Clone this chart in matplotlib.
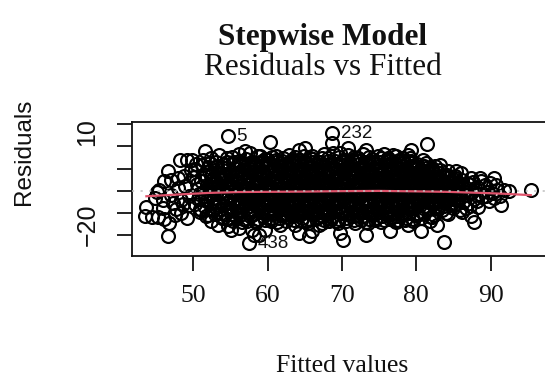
import numpy as np
import matplotlib
matplotlib.use("Agg")
import matplotlib.pyplot as plt
from matplotlib.transforms import ScaledTranslation

SERIF = "Liberation Serif"
SANS = "Liberation Sans"

# ---- fitted values and residuals, grouped by fitted-value range ----
fit_44_50 = [43.7, 43.5, 44.4, 45.2, 46.1, 46.8, 46.6, 45.9, 47.5, 48.4,
             49.1, 49.5, 45.1, 46.1, 47.0, 48.0, 48.8, 49.96, 48.2, 49.1,
             49.9, 45.4, 47.0, 47.9, 48.4, 45.9, 47.3, 48.6, 49.4, 46.6,
             49.7, 47.7, 44.8, 48.9]
res_44_50 = [-7.3, -11.4, -11.8, -11.6, -12.5, -14.4, -20.4, -7.7, -10.7, -9.9,
             -12.2, -6.2, -0.5, 4.4, 5.1, 5.9, 6.6, 6.2, 13.8, 13.8,
             13.8, 0.6, -1.7, 1.4, -3.9, -3.9, -5.6, -6.0, -2.1, 9.0,
             9.6, -7.9, -3.4, 2.3]

fit_50_56 = [50.2, 50.5, 50.8, 50.3, 50.9, 50.6, 50.1, 50.7, 50.4, 50.95, 51.1,
             51.6, 51.2, 51.5, 51.8, 51.3, 51.9, 51.4, 51.7, 51.05, 51.6, 51.35,
             52.4, 52.4, 52.1, 52.6, 52.8, 52.3, 52.9, 52.5, 52.2, 52.7, 52.35, 52.95, 52.55,
             53.3, 53.1, 53.4, 53.7, 53.2, 53.9, 53.5, 53.8, 53.05, 53.6, 53.3, 53.85, 53.45,
             54.7, 54.7, 54.1, 54.4, 54.8, 54.2, 54.6, 54.9, 54.3, 54.5, 54.75, 54.05, 54.65, 54.35,
             55.1, 55.2, 55.5, 55.8, 55.3, 55.9, 55.6, 55.1, 55.7, 55.4, 55.05, 55.85, 55.55, 55.25]
res_50_56 = [9.8, 3.2, -1.5, -5.8, -9.6, 0.9, 6.4, -3.7, 12.1, -7.9, -8.4,
             17.9, 11.5, 7.2, 2.8, -0.4, -4.1, -6.9, -11.2, 4.6, -2.3, 13.9,
             14.9, -13.6, 9.1, 5.3, 1.7, -1.9, -5.2, -8.6, 12.4, -3.4, 3.6, -10.3, 7.6,
             -15.2, 13.2, 8.7, 4.9, 1.3, -2.1, -6.4, -9.8, 10.6, -0.6, 6.2, -12.1, 16.0,
             24.6, -15.9, 11.9, 7.4, 3.3, -0.2, -3.8, -7.5, -10.4, 14.6, 1.8, 5.6, -12.8, -5.3,
             -17.4, 15.1, 10.3, 6.1, 2.4, -1.1, -4.6, -8.2, -11.7, 13.0, 4.2, -6.3, 0.6, 8.4]

fit_56_64 = [56.1, 56.1, 56.2, 56.5, 56.8, 56.3, 56.9, 56.6, 56.1, 56.7, 56.4, 56.05, 56.85, 56.55, 56.25, 56.75,
             57.0, 57.7, 57.9, 57.5, 57.1, 57.4, 57.7, 57.2, 57.85, 57.55, 57.05, 57.65, 57.35, 57.95, 57.25, 57.8, 57.5, 57.15,
             58.2, 58.8, 58.1, 58.4, 58.7, 58.2, 58.9, 58.5, 58.05, 58.6, 58.3, 58.95, 58.25, 58.8, 58.45, 58.15, 58.65,
             59.0, 59.7, 59.1, 59.4, 59.7, 59.2, 59.9, 59.5, 59.05, 59.6, 59.3, 59.95, 59.25, 59.8, 59.45, 59.15, 59.65,
             60.3, 60.1, 60.4, 60.7, 60.2, 60.9, 60.5, 60.05, 60.6, 60.3, 60.95, 60.25, 60.8, 60.45, 60.15, 60.65, 60.85,
             61.1, 61.5, 61.7, 61.2, 61.5, 61.8, 61.3, 61.9, 61.6, 61.05, 61.7, 61.4, 61.95, 61.25, 61.85, 61.55, 61.15, 61.75,
             62.0, 62.1, 62.4, 62.7, 62.2, 62.9, 62.5, 62.05, 62.6, 62.3, 62.95, 62.25, 62.8, 62.45, 62.15, 62.65, 62.85,
             63.3, 63.7, 63.1, 63.4, 63.7, 63.2, 63.9, 63.5, 63.05, 63.6, 63.3, 63.95, 63.25, 63.8, 63.45, 63.15, 63.65]
res_56_64 = [16.4, -16.7, 13.6, 9.5, 5.7, 2.1, -1.6, -5.3, -8.9, -12.4, 11.2, 3.9, -3.5, 7.4, -10.6, 0.3,
             17.9, 17.1, -17.4, -23.4, 14.3, 10.1, 6.2, 2.7, -0.9, -4.4, -7.8, -11.3, 12.2, 4.5, -2.6, 8.3, -9.7, 0.8,
             -19.7, -19.7, 13.1, 9.0, 5.4, 1.6, -2.0, -5.6, -9.1, -12.6, 11.0, 3.2, -3.9, 7.3, -14.1, -0.4, 15.5,
             15.6, -17.4, 12.7, 8.8, 4.7, 1.0, -2.6, -6.1, -9.5, -13.0, 10.6, 2.9, -4.3, 6.6, -11.2, -0.8, 14.2,
             22.1, 13.9, 9.6, 5.9, 2.2, -1.4, -5.0, -8.4, -12.0, 11.7, 4.0, -3.2, 7.8, -10.1, 0.4, 15.3, -6.8,
             15.6, -12.2, -15.2, 12.9, 8.5, 4.6, 0.9, -2.7, -6.2, -9.7, 11.0, 2.6, -4.6, 6.9, -11.0, -0.5, 14.0, -7.9,
             13.4, 14.8, 10.2, 6.3, 2.5, -1.2, -4.8, -8.3, -11.8, 12.1, 4.2, -3.0, 8.0, -9.9, 0.2, -6.4, 16.2,
             13.4, -15.2, 12.6, 8.4, 4.5, 0.8, -2.8, -6.3, -9.8, -13.2, 10.4, 2.7, -4.5, 6.5, -11.3, -0.6, 15.1]

fit_64_72 = [64.2, 64.2, 64.1, 64.4, 64.7, 64.2, 64.9, 64.5, 64.05, 64.6, 64.3, 64.95, 64.25, 64.8, 64.45, 64.15, 64.65, 64.85,
             65.1, 65.6, 65.1, 65.4, 65.7, 65.2, 65.9, 65.5, 65.05, 65.6, 65.3, 65.95, 65.25, 65.8, 65.45, 65.15, 65.65,
             66.0, 66.0, 66.9, 66.1, 66.4, 66.7, 66.2, 66.9, 66.5, 66.05, 66.6, 66.3, 66.95, 66.25, 66.8, 66.45, 66.15, 66.65, 66.85,
             67.3, 67.1, 67.4, 67.7, 67.2, 67.9, 67.5, 67.05, 67.6, 67.3, 67.95, 67.25, 67.8, 67.45, 67.15, 67.65,
             68.7, 68.6, 68.2, 68.1, 68.4, 68.7, 68.2, 68.9, 68.5, 68.05, 68.6, 68.3, 68.95, 68.25, 68.8, 68.45, 68.15, 68.65, 68.85,
             69.7, 69.7, 69.1, 69.4, 69.7, 69.2, 69.9, 69.5, 69.05, 69.6, 69.3, 69.95, 69.25, 69.8, 69.45, 69.15, 69.65,
             70.2, 70.8, 70.1, 70.4, 70.7, 70.2, 70.9, 70.5, 70.05, 70.6, 70.3, 70.95, 70.25, 70.8, 70.45, 70.15, 70.65, 70.85,
             71.5, 71.7, 71.1, 71.4, 71.7, 71.2, 71.9, 71.5, 71.05, 71.6, 71.3, 71.95, 71.25, 71.8, 71.45, 71.15, 71.65]
res_64_72 = [18.6, -18.9, 14.1, 9.9, 6.0, 2.3, -1.3, -4.9, -8.5, -12.1, 11.8, 4.1, -3.1, 7.9, -10.3, 0.3, -6.6, 15.9,
             19.4, -20.4, 13.0, 8.9, 5.1, 1.4, -2.2, -5.7, -9.2, -12.7, 10.9, 3.0, -4.0, 7.0, -14.3, -0.3, 15.0,
             15.6, -18.2, -15.2, 14.4, 10.0, 6.2, 2.4, -1.0, -4.7, -8.2, -11.6, 12.0, 4.3, -2.9, 8.1, -10.0, 0.5, -6.5, 13.1,
             14.9, 12.8, 8.6, 4.8, 1.1, -2.5, -6.0, -9.5, -13.0, 10.7, 2.8, -4.2, 6.8, -11.4, -0.7, 16.5,
             26.0, 21.6, -13.6, 14.6, 10.4, 6.5, 2.6, -1.1, -4.6, -8.1, -11.5, 12.3, 4.4, -2.8, 8.2, -9.8, 0.6, -6.3, 17.2,
             17.1, -18.9, 13.3, 9.1, 5.2, 1.5, -2.1, -5.6, -9.0, -12.5, 11.1, 3.1, -3.9, 7.1, -14.6, -0.2, 15.4,
             -21.9, 19.4, 14.0, 9.8, 5.8, 2.0, -1.5, -5.1, -8.6, -12.2, 11.6, 3.8, -3.3, 7.7, -10.4, 0.1, -6.9, 16.0,
             13.4, -14.4, 12.5, 8.3, 4.4, 0.7, -2.9, -6.4, -9.9, -13.1, 10.3, 2.6, -4.6, 6.4, -11.2, -0.9, 15.2]

fit_72_80 = [72.1, 72.4, 72.7, 72.2, 72.9, 72.5, 72.05, 72.6, 72.3, 72.95, 72.25, 72.8, 72.45, 72.15, 72.65, 72.85,
             73.3, 73.3, 73.1, 73.4, 73.7, 73.2, 73.9, 73.5, 73.05, 73.6, 73.3, 73.95, 73.25, 73.8, 73.45, 73.15, 73.65,
             74.1, 74.4, 74.7, 74.2, 74.9, 74.5, 74.05, 74.6, 74.3, 74.95, 74.25, 74.8, 74.45, 74.15, 74.65, 74.85,
             75.3, 75.1, 75.4, 75.7, 75.2, 75.9, 75.5, 75.05, 75.6, 75.3, 75.95, 75.25, 75.8, 75.45, 75.15, 75.65,
             76.2, 76.4, 76.1, 76.4, 76.7, 76.2, 76.9, 76.5, 76.05, 76.6, 76.3, 76.95, 76.25, 76.8, 76.45, 76.15, 76.65, 76.85,
             77.3, 77.1, 77.1, 77.4, 77.7, 77.2, 77.9, 77.5, 77.05, 77.6, 77.3, 77.95, 77.25, 77.8, 77.45, 77.15, 77.65,
             78.2, 78.9, 78.1, 78.4, 78.7, 78.2, 78.9, 78.5, 78.05, 78.6, 78.3, 78.95, 78.25, 78.8, 78.45, 78.15, 78.65, 78.85,
             79.3, 79.6, 79.1, 79.4, 79.7, 79.2, 79.9, 79.5, 79.05, 79.6, 79.3, 79.95, 79.25, 79.8, 79.45, 79.15]
res_72_80 = [14.7, 10.3, 6.4, 2.5, -1.2, -4.8, -8.3, -11.9, 12.2, 4.2, -3.0, 8.0, -10.0, 0.3, -6.5, 16.4,
             18.6, -19.7, 13.2, 9.0, 5.1, 1.4, -2.3, -5.8, -9.3, -12.8, 10.8, 2.9, -4.1, 6.9, -14.5, -0.4, 15.1,
             14.2, 9.7, 5.9, 2.1, -1.4, -5.0, -8.5, -12.0, 11.9, 4.0, -3.2, 7.8, -10.2, 0.2, -6.7, 15.8,
             14.9, 12.9, 8.7, 4.7, 1.0, -2.6, -6.1, -9.6, -13.0, 10.5, 2.7, -4.4, 6.6, -11.3, -0.7, 16.8,
             14.9, -18.2, 14.5, 10.1, 6.1, 2.3, -1.3, -4.9, -8.4, -11.7, 12.0, 4.3, -2.9, 8.1, -9.9, 0.4, -6.6, 16.1,
             15.6, -13.6, 12.7, 8.5, 4.6, 0.9, -2.7, -6.2, -9.7, -12.9, 10.6, 2.8, -4.3, 6.7, -11.1, -0.5, 13.9,
             14.9, -15.2, 13.8, 9.5, 5.6, 1.9, -1.7, -5.2, -8.7, -12.1, 11.4, 3.6, -3.5, 7.5, -10.5, 0.0, -7.0, 16.3,
             18.6, -13.6, 12.4, 8.2, 4.3, 0.6, -3.0, -6.5, -10.0, -12.6, 10.2, 2.5, -4.7, 6.3, -0.8, 14.6]

fit_80_96 = [80.9, 80.2, 80.7, 80.1, 80.4, 80.7, 80.2, 80.9, 80.5, 80.05, 80.6, 80.3, 80.95, 80.25, 80.8, 80.45,
             81.4, 81.8, 81.1, 81.4, 81.7, 81.2, 81.9, 81.5, 81.05, 81.6, 81.3, 81.95, 81.25, 81.8,
             82.4, 82.8, 82.1, 82.4, 82.7, 82.2, 82.9, 82.5, 82.05, 82.6, 82.3, 82.95, 82.25,
             83.2, 83.7, 83.1, 83.4, 83.7, 83.2, 83.9, 83.5, 83.05, 83.6, 83.3, 83.95,
             84.2, 84.1, 84.4, 84.7, 84.2, 84.9, 84.5, 84.05, 84.6, 84.3,
             85.3, 85.1, 85.2, 85.5, 85.8, 85.3, 85.9, 85.6, 85.05, 85.7,
             86.0, 86.7, 86.2, 86.5, 86.8, 86.3, 86.9, 86.6, 86.1,
             87.3, 87.3, 87.8, 87.1, 87.5, 87.8, 87.2, 87.9, 87.6,
             88.7, 88.2, 88.1, 88.5, 88.9, 88.3, 88.6,
             89.8, 89.2, 89.6, 89.9, 89.4,
             90.5, 90.7, 90.2, 90.9, 90.4, 91.8, 91.4, 91.2, 92.5, 95.4]
res_80_96 = [14.1, 10.4, -18.2, 12.2, 7.6, 3.9, 0.4, -2.9, -6.3, -9.8, -12.3, 5.8, 1.9, -4.6, 8.9, -1.2,
             20.9, -13.6, 11.3, 7.2, 3.5, -0.1, -3.5, -6.9, -10.2, 9.2, 1.6, -5.1, 5.4, -1.7,
             -10.7, -15.2, 10.4, 6.6, 2.9, -0.6, -3.9, -7.3, 8.4, 1.1, -5.4, 4.7, -2.1,
             11.8, -23.0, 8.1, 4.9, 1.4, -2.0, -5.4, -8.6, 6.0, -0.4, 2.9, -3.6,
             8.9, 6.2, 2.6, -0.9, -4.3, -7.6, 4.4, 0.8, -2.6, -10.4,
             8.9, -6.2, 5.7, 2.1, -1.4, -4.0, -8.4, 3.8, 0.2, -2.9,
             8.1, -7.7, 5.1, 1.6, -1.8, -4.9, 3.2, -0.4, -9.6,
             5.9, -11.4, -14.0, 2.9, -0.6, -3.7, -6.8, 1.2, 4.0,
             4.4, -4.6, 1.8, -1.2, -2.9, -7.1, 6.0,
             -4.6, 2.5, -0.5, 3.6, -2.3,
             5.9, 2.8, -1.1, 0.4, -3.4, 0.6, -6.4, -2.5, 0.1, 0.6]

# the crowded middle of the cloud
fit_core_52_69 = [52.15, 52.45, 52.75, 52.3, 52.6, 52.9, 52.05, 52.5,
                  53.25, 53.55, 53.85, 53.1, 53.4, 53.7, 53.95, 53.2,
                  54.15, 54.45, 54.75, 54.3, 54.6, 54.9, 54.05, 54.5,
                  55.35, 55.65, 55.95, 55.2, 55.5, 55.8, 55.05, 55.4,
                  56.15, 56.45, 56.75, 56.3, 56.6, 56.9, 56.05, 56.5,
                  57.25, 57.55, 57.85, 57.1, 57.4, 57.7, 57.95, 57.3,
                  58.15, 58.45, 58.75, 58.3, 58.6, 58.9, 58.05, 58.5,
                  59.25, 59.55, 59.85, 59.1, 59.4, 59.7, 59.95, 59.3,
                  60.15, 60.45, 60.75, 60.3, 60.6, 60.9, 60.05, 60.5,
                  61.25, 61.55, 61.85, 61.1, 61.4, 61.7, 61.95, 61.3,
                  62.15, 62.45, 62.75, 62.3, 62.6, 62.9, 62.05, 62.5,
                  63.25, 63.55, 63.85, 63.1, 63.4, 63.7, 63.95, 63.3,
                  64.15, 64.45, 64.75, 64.3, 64.6, 64.9, 64.05, 64.5,
                  65.25, 65.55, 65.85, 65.1, 65.4, 65.7, 65.95, 65.3,
                  66.15, 66.45, 66.75, 66.3, 66.6, 66.9, 66.05, 66.5,
                  67.25, 67.55, 67.85, 67.1, 67.4, 67.7, 67.95, 67.3,
                  68.15, 68.45, 68.75, 68.3, 68.6, 68.9, 68.05, 68.5]
res_core_52_69 = [10.8, 6.9, 3.0, -0.8, -4.4, -7.1, -11.0, 5.1,
                  11.4, 7.5, 2.4, -1.3, -4.9, -8.0, -11.5, 4.0,
                  10.1, 6.3, 2.2, -1.0, -5.2, -8.8, -12.0, 12.9,
                  11.9, 7.8, 3.6, -0.3, -3.5, -7.0, -10.2, -13.4,
                  12.2, 8.1, 4.6, 0.9, -2.4, -6.2, -9.8, -13.8,
                  11.0, 7.0, 3.5, -0.2, -3.4, -6.9, -10.6, -13.7,
                  12.0, 8.0, 4.1, 0.5, -3.0, -6.7, -10.3, -13.6,
                  11.5, 7.6, 3.7, -0.1, -3.6, -7.2, -10.4, 13.3,
                  12.6, 8.6, 4.9, 1.2, -2.3, -6.0, -9.4, -13.3,
                  11.8, 7.7, 3.6, -0.1, -3.7, -7.0, -10.5, -13.8,
                  11.1, 7.2, 3.4, -0.3, -3.9, -7.4, -10.9, -13.5,
                  11.6, 7.4, 3.6, -0.2, -3.7, -7.2, -10.6, 14.0,
                  12.9, 8.9, 5.0, 1.3, -2.2, -5.8, -9.4, -13.4,
                  12.0, 7.9, 4.1, 0.4, -3.1, -6.7, -10.2, -13.3,
                  13.0, 9.1, 5.2, 1.4, -2.0, -5.6, -9.1, -12.8,
                  11.7, 7.6, 3.8, 0.1, -3.4, -7.0, -10.4, -14.2,
                  13.5, 9.4, 5.5, 1.7, -2.0, -5.5, -9.0, -12.6]

fit_core_69_86 = [69.25, 69.55, 69.85, 69.1, 69.4, 69.7, 69.95, 69.3,
                  70.15, 70.45, 70.75, 70.3, 70.6, 70.9, 70.05, 70.5,
                  71.25, 71.55, 71.85, 71.1, 71.4, 71.7, 71.95, 71.3,
                  72.15, 72.45, 72.75, 72.3, 72.6, 72.9, 72.05, 72.5,
                  73.25, 73.55, 73.85, 73.1, 73.4, 73.7, 73.95, 73.3,
                  74.15, 74.45, 74.75, 74.3, 74.6, 74.9, 74.05, 74.5,
                  75.25, 75.55, 75.85, 75.1, 75.4, 75.7, 75.95, 75.3,
                  76.15, 76.45, 76.75, 76.3, 76.6, 76.9, 76.05, 76.5,
                  77.25, 77.55, 77.85, 77.1, 77.4, 77.7, 77.95, 77.3,
                  78.15, 78.45, 78.75, 78.3, 78.6, 78.9, 78.05, 78.5,
                  79.25, 79.55, 79.85, 79.1, 79.4, 79.7, 79.95, 79.3,
                  80.15, 80.45, 80.75, 80.3, 80.6, 80.9, 80.05, 80.5,
                  81.25, 81.55, 81.85, 81.1, 81.4, 81.7, 81.95, 81.3,
                  82.15, 82.45, 82.75, 82.3, 82.6, 82.9, 82.05, 82.5,
                  83.25, 83.55, 83.85, 83.1, 83.4, 83.7, 83.95,
                  84.15, 84.45, 84.75, 84.3, 84.6, 84.9,
                  85.25, 85.55, 85.85, 85.1, 85.4, 85.7]
res_core_69_86 = [12.2, 8.1, 4.2, 0.5, -3.0, -6.6, -10.0, -13.5,
                  12.9, 8.8, 4.9, 1.0, -2.5, -6.0, -9.5, -13.3,
                  11.5, 7.3, 3.5, -0.2, -3.8, -7.3, -10.7, 14.1,
                  13.6, 9.3, 5.4, 1.6, -2.1, -5.7, -9.2, -13.0,
                  12.1, 8.0, 4.1, 0.4, -3.2, -6.8, -10.3, -13.8,
                  13.1, 8.8, 4.9, 1.1, -2.4, -6.0, -9.5, -13.2,
                  11.8, 7.7, 3.8, 0.0, -3.6, -7.1, -10.5, -14.1,
                  13.4, 9.1, 5.1, 1.3, -2.2, -5.8, -9.3, -12.8,
                  11.6, 7.5, 3.7, -0.1, -3.7, -7.2, -10.4, -13.9,
                  12.6, 8.6, 4.7, 0.9, -2.6, -6.1, -9.7, -13.2,
                  11.3, 7.2, 3.4, -0.4, -3.9, -7.5, -11.0, 13.4,
                  11.0, 6.7, 2.9, -0.8, -4.0, -7.6, -10.9, 9.6,
                  10.3, 6.3, 2.5, -1.0, -4.4, -7.9, -11.6, 12.6,
                  9.4, 5.6, 2.0, -1.5, -4.8, -8.2, -11.8, 11.4,
                  9.6, 6.8, 3.7, 0.4, -2.9, -6.6, -10.1,
                  7.3, 3.6, 0.0, -3.3, -6.2, 5.5,
                  6.8, 3.0, -0.5, -3.2, -6.0, 1.1]

# observations flagged with the largest absolute residuals
id_labels = ["5", "232", "438"]
id_fitted = [54.7, 68.7, 57.5]
id_resid = [24.6, 26.0, -23.4]

# local smoother through the residuals
smooth_x = [43.7, 48.0, 52.0, 56.0, 60.0, 65.0, 70.0, 75.0, 80.0, 84.0, 88.0, 92.0, 95.4]
smooth_y = [-2.4, -1.6, -0.9, -0.5, -0.4, -0.3, -0.1, 0.0, -0.2, -0.4, -0.8, -1.3, -1.9]

x_ticks = [50, 60, 70, 80, 90]
x_tick_labels = ["50", "60", "70", "80", "90"]
y_ticks = [-20, -10, 0, 10, 20, 30]
y_tick_labels = ["\u221220", "", "", "10", "", ""]

fitted = np.concatenate([fit_44_50, fit_50_56, fit_56_64, fit_64_72, fit_72_80, fit_80_96,
                         fit_core_52_69, fit_core_69_86])
resid = np.concatenate([res_44_50, res_50_56, res_56_64, res_64_72, res_72_80, res_80_96,
                        res_core_52_69, res_core_69_86])

INK = "#111111"
W, H = 545, 376
fig = plt.figure(figsize=(W / 100, H / 100), dpi=100)
ax = fig.add_axes([131.5 / W, (H - 255.7) / H, (546.4 - 131.5) / W, (255.7 - 121.7) / H])

ax.plot(fitted, resid, linestyle="none", marker="o", ms=9.3, mfc="none",
        mec="black", mew=1.55, zorder=2, clip_on=False)
ax.plot(smooth_x, smooth_y, color="#DF536B", lw=1.6, zorder=3)
ax.axhline(0, color="#BEBEBE", lw=1.1, ls=(0, (1.4, 4.2)), zorder=4)

for lab, fx, fy in zip(id_labels, id_fitted, id_resid):
    ax.annotate(lab, (fx, fy), xytext=(6.0, 0), textcoords="offset points",
                ha="left", va="center", fontsize=13.5, fontfamily=SANS, color=INK,
                annotation_clip=False, zorder=5)

ax.set_xlim(41.7, 97.5)
ax.set_ylim(-29.1, 31.1)
ax.set_xticks(x_ticks)
ax.set_xticklabels(x_tick_labels, fontfamily=SERIF, fontsize=18.5, color=INK)
ax.set_yticks(y_ticks)
ax.set_yticklabels(y_tick_labels, fontfamily=SANS, fontsize=18, rotation=90, va="center", color=INK)
ax.tick_params(length=10.6, width=1.3, direction="out", colors=INK)
ax.tick_params(axis="x", pad=10.4)
ax.tick_params(axis="y", pad=12.5)
for s in ax.spines.values():
    s.set_linewidth(1.3)
    s.set_color(INK)

# nudge the rotated y tick labels along the axis
label_shift_pt = {"10": 26.4, "\u221220": 7.5}
for lbl in ax.get_yticklabels():
    dy = label_shift_pt.get(lbl.get_text(), 0.0)
    if dy:
        lbl.set_transform(lbl.get_transform() + ScaledTranslation(0, dy / 72, fig.dpi_scale_trans))

fig.text(323 / W, (H - 45.2) / H, "Stepwise Model", fontfamily=SERIF, fontweight="bold",
         fontsize=22.5, ha="center", va="baseline", color=INK)
fig.text(323 / W, (H - 74.7) / H, "Residuals vs Fitted", fontfamily=SERIF,
         fontsize=22.5, ha="center", va="baseline", color=INK)
fig.text(342 / W, (H - 372) / H, "Fitted values", fontfamily=SERIF, fontsize=18.5,
         ha="center", va="baseline", color=INK)
fig.text(23.6 / W, (H - 151.7) / H, "Residuals", fontfamily=SANS, fontsize=17.5,
         rotation=90, ha="center", va="center", color=INK)

fig.savefig("out.png", dpi=100)
